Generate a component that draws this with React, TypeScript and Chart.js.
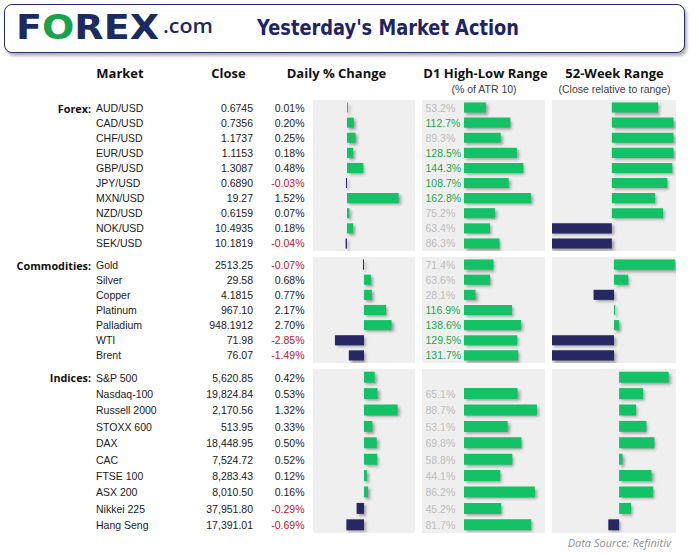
import React, { useEffect, useRef } from "react";
import { Chart, registerables } from "chart.js";
Chart.register(...registerables);

const GREEN = "#12c264";
const NAVY = "#262763";
const TEXT = "#1a1a1a";
const NEG_RED = "#c0141c";
const RANGE_GREEN = "#1ca64c";
const RANGE_GRAY = "#bdbdbd";
const PANEL_BG = "#efefef";

// ---------- data ----------
const sectionLabels = ["Forex:", "Commodities:", "Indices:"];

const forexMarkets = ["AUD/USD", "CAD/USD", "CHF/USD", "EUR/USD", "GBP/USD", "JPY/USD", "MXN/USD", "NZD/USD", "NOK/USD", "SEK/USD"];
const forexClose = ["0.6745", "0.7356", "1.1737", "1.1153", "1.3087", "0.6890", "19.27", "0.6159", "10.4935", "10.1819"];
const forexChange = [0.01, 0.2, 0.25, 0.18, 0.48, -0.03, 1.52, 0.07, 0.18, -0.04];
const forexRange = [53.2, 112.7, 89.3, 128.5, 144.3, 108.7, 162.8, 75.2, 63.4, 86.3];
const forexWeek = [75, 100, 100, 100, 98, 90, 70, 83, -100, -100];

const commodityMarkets = ["Gold", "Silver", "Copper", "Platinum", "Palladium", "WTI", "Brent"];
const commodityClose = ["2513.25", "29.58", "4.1815", "967.10", "948.1912", "71.98", "76.07"];
const commodityChange = [-0.07, 0.68, 0.77, 2.17, 2.7, -2.85, -1.49];
const commodityRange = [71.4, 63.6, 28.1, 116.9, 138.6, 129.5, 131.7];
const commodityWeek = [98, 23, -33, 2, 8, -100, -100];

const indexMarkets = ["S&P 500", "Nasdaq-100", "Russell 2000", "STOXX 600", "DAX", "CAC", "FTSE 100", "ASX 200", "Nikkei 225", "Hang Seng"];
const indexClose = ["5,620.85", "19,824.84", "2,170.56", "513.95", "18,448.95", "7,524.72", "8,283.43", "8,010.50", "37,951.80", "17,391.01"];
const indexChange = [0.42, 0.53, 1.32, 0.33, 0.5, 0.52, 0.12, 0.16, -0.29, -0.69];
const indexRange: (number | null)[] = [null, 65.1, 88.7, 53.1, 69.8, 58.8, 44.1, 86.2, 45.2, 81.7];
const indexWeek = [87, 42, 30, 48, 62, 6, 57, 60, 21, -19];

// axis ranges per section
const changeAxis = [[-1, 2], [-5, 5], [-2, 2]];
const rangeAxisMax = [197, 197, 98.5];
const weekAxis = [[-97, 104], [-100, 100], [-118, 100]];

// ---------- layout ----------
const sections = [
  { label: sectionLabels[0], markets: forexMarkets, close: forexClose, change: forexChange, range: forexRange as (number | null)[], week: forexWeek, top: 100, height: 151 },
  { label: sectionLabels[1], markets: commodityMarkets, close: commodityClose, change: commodityChange, range: commodityRange as (number | null)[], week: commodityWeek, top: 257, height: 106 },
  { label: sectionLabels[2], markets: indexMarkets, close: indexClose, change: indexChange, range: indexRange, week: indexWeek, top: 369, height: 164 },
];

const COL_DAILY = { left: 313, width: 102 };
const COL_D1 = { left: 422, width: 123, barLeft: 464, barWidth: 81 };
const COL_WEEK = { left: 552, width: 124 };

const shadowPlugin = {
  id: "barShadow",
  beforeDatasetsDraw(chart: any) {
    const c = chart.ctx;
    c.save();
    c.shadowColor = "rgba(0,0,0,0.35)";
    c.shadowBlur = 3;
    c.shadowOffsetX = 2;
    c.shadowOffsetY = 2;
  },
  afterDatasetsDraw(chart: any) {
    chart.ctx.restore();
  },
};

function BarPanel(props: { labels: string[]; values: (number | null)[]; min: number; max: number; left: number; top: number; width: number; height: number }) {
  const ref = useRef<HTMLCanvasElement>(null);
  const { labels, values, min, max, left, top, width, height } = props;
  useEffect(() => {
    const chart = new Chart(ref.current!, {
      type: "bar",
      data: {
        labels,
        datasets: [
          {
            data: values as any,
            backgroundColor: values.map((v) => (v == null ? "rgba(0,0,0,0)" : v >= 0 ? GREEN : NAVY)),
            borderWidth: 0,
            barPercentage: 0.67,
            categoryPercentage: 1,
            minBarLength: 1,
          },
        ],
      },
      options: {
        indexAxis: "y",
        animation: false,
        responsive: false,
        maintainAspectRatio: false,
        devicePixelRatio: 1,
        layout: { padding: 0 },
        plugins: { legend: { display: false }, tooltip: { enabled: false } },
        scales: {
          x: { display: false, min, max },
          y: { display: false },
        },
      },
      plugins: [shadowPlugin],
    });
    return () => chart.destroy();
  }, []);
  return <canvas ref={ref} width={width} height={height} style={{ position: "absolute", left, top, width, height }} />;
}

function textWidth(text: string, font: string) {
  const c = document.createElement("canvas").getContext("2d")!;
  c.font = font;
  return c.measureText(text).width;
}

function FitText(props: { text?: string; children?: any; font: string; size: number; weight: any; family: string; width: number; left: number; top: number; color: string; style?: any }) {
  const w = textWidth(props.text || "", `${props.weight} ${props.size}px ${props.family}`);
  const k = w > 0 ? props.width / w : 1;
  return (
    <div
      style={{
        position: "absolute",
        left: props.left,
        top: props.top,
        fontFamily: props.family,
        fontSize: props.size,
        fontWeight: props.weight,
        lineHeight: props.size + "px",
        color: props.color,
        whiteSpace: "nowrap",
        transform: `scaleX(${k})`,
        transformOrigin: "left top",
        ...(props.style || {}),
      }}
    >
      {props.children || props.text}
    </div>
  );
}

function Header() {
  const logoFamily = "'DejaVu Sans', sans-serif";
  return (
    <>
      <div
        style={{
          position: "absolute",
          left: 4,
          top: 4,
          width: 681,
          height: 49,
          boxSizing: "border-box",
          border: "1.5px solid #272b6b",
          borderRadius: 8,
          boxShadow: "2px 3px 3px rgba(0,0,0,0.3)",
          background: "#fff",
        }}
      />
      <FitText text="FOREX" font="" size={33} weight="bold" family={logoFamily} width={143} left={16} top={11} color="#1b2b5e">
        <span>F</span>
        <span style={{ color: "#19a24c" }}>O</span>
        <span>REX</span>
      </FitText>
      <FitText text=".com" font="" size={20} weight={600} family="'Open Sans', sans-serif" width={50} left={163} top={16} color="#1b2b5e" />
      <FitText text="Yesterday's Market Action" font="" size={21} weight="bold" family="'DejaVu Sans', sans-serif" width={262} left={257} top={18} color="#1f2462" />
    </>
  );
}

const headFont = "'Open Sans', sans-serif";
const rowFont = "'Liberation Sans', Arial, sans-serif";

function CenterText(props: { text: string; cx: number; cy: number; size: number; weight?: any; family: string; color: string; lh: number }) {
  return (
    <div
      style={{
        position: "absolute",
        left: props.cx - 100,
        width: 200,
        top: props.cy - props.lh / 2,
        height: props.lh,
        lineHeight: props.lh + "px",
        textAlign: "center",
        fontFamily: props.family,
        fontSize: props.size,
        fontWeight: props.weight || "normal",
        color: props.color,
        whiteSpace: "nowrap",
      }}
    >
      {props.text}
    </div>
  );
}

function ColumnHeaders() {
  return (
    <>
      <CenterText text="Market" cx={120} cy={72.5} size={13} weight="bold" family={headFont} color="#111" lh={18} />
      <CenterText text="Close" cx={228.5} cy={72.5} size={13} weight="bold" family={headFont} color="#111" lh={18} />
      <CenterText text="Daily % Change" cx={336.5} cy={72.5} size={13} weight="bold" family={headFont} color="#111" lh={18} />
      <CenterText text="D1 High-Low Range" cx={485.5} cy={72.5} size={13} weight="bold" family={headFont} color="#111" lh={18} />
      <CenterText text="52-Week Range" cx={614.5} cy={72.5} size={13} weight="bold" family={headFont} color="#111" lh={18} />
      <CenterText text="(% of ATR 10)" cx={484} cy={89} size={10.5} family={rowFont} color="#404040" lh={16} />
      <CenterText text="(Close relative to range)" cx={614.5} cy={89} size={10.5} family={rowFont} color="#404040" lh={16} />
    </>
  );
}

function Section(props: { s: (typeof sections)[number]; idx: number }) {
  const { s, idx } = props;
  const n = s.markets.length;
  const rowH = s.height / n;
  const cell = (i: number, extra: any, content: any, key: string) => (
    <div
      key={key}
      style={{
        position: "absolute",
        top: s.top + i * rowH + 0.5,
        height: rowH,
        lineHeight: rowH + "px",
        fontFamily: rowFont,
        fontSize: 10.5,
        color: TEXT,
        whiteSpace: "nowrap",
        ...extra,
      }}
    >
      {content}
    </div>
  );
  return (
    <>
      <div style={{ position: "absolute", left: COL_DAILY.left, width: COL_DAILY.width, top: s.top, height: s.height, background: PANEL_BG }} />
      <div style={{ position: "absolute", left: COL_D1.left, width: COL_D1.width, top: s.top, height: s.height, background: PANEL_BG }} />
      <div style={{ position: "absolute", left: COL_WEEK.left, width: COL_WEEK.width, top: s.top, height: s.height, background: PANEL_BG }} />
      {cell(0, { left: 0, width: 91, textAlign: "right", fontFamily: headFont, fontWeight: "bold", fontSize: 10.8, color: "#111" }, s.label, "lbl")}
      {s.markets.map((m, i) => cell(i, { left: 96 }, m, "m" + i))}
      {s.close.map((c, i) => cell(i, { left: 170, width: 83, textAlign: "right" }, c, "c" + i))}
      {s.change.map((v, i) =>
        cell(i, { left: 250, width: 54.5, textAlign: "right", color: v < 0 ? NEG_RED : TEXT }, v.toFixed(2) + "%", "p" + i)
      )}
      {s.range.map((v, i) =>
        v == null ? null : cell(i, { left: 425.5, color: v >= 100 ? RANGE_GREEN : RANGE_GRAY }, v.toFixed(1) + "%", "r" + i)
      )}
      <BarPanel labels={s.markets} values={s.change} min={changeAxis[idx][0]} max={changeAxis[idx][1]} left={COL_DAILY.left} top={s.top} width={COL_DAILY.width} height={s.height} />
      <BarPanel labels={s.markets} values={s.range} min={0} max={rangeAxisMax[idx]} left={COL_D1.barLeft} top={s.top} width={COL_D1.barWidth} height={s.height} />
      <BarPanel labels={s.markets} values={s.week} min={weekAxis[idx][0]} max={weekAxis[idx][1]} left={COL_WEEK.left} top={s.top} width={COL_WEEK.width} height={s.height} />
    </>
  );
}

export default function App() {
  return (
    <div
      style={{
        position: "absolute",
        left: 0,
        top: 0,
        width: 694,
        height: 555,
        background: "#fff",
        overflow: "hidden",
        fontFamily: rowFont,
      }}
    >
      <Header />
      <ColumnHeaders />
      {sections.map((s, i) => (
        <Section key={i} s={s} idx={i} />
      ))}
      <div
        style={{
          position: "absolute",
          right: 23,
          top: 535,
          lineHeight: "16px",
          fontFamily: headFont,
          fontStyle: "italic",
          fontSize: 11,
          color: "#8f8f8f",
          whiteSpace: "nowrap",
        }}
      >
        Data Source: Refinitiv
      </div>
    </div>
  );
}
